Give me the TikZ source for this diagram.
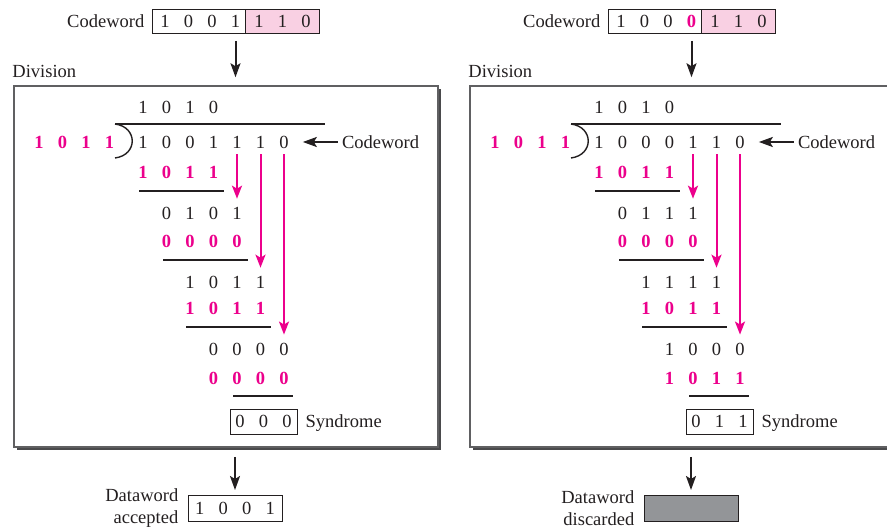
\documentclass[tikz,border=0pt]{standalone}
\usepackage{fontspec}
\setmainfont{Liberation Serif}
\usetikzlibrary{positioning,arrows.meta,shadows}

\definecolor{cpink}{HTML}{EC008C}
\definecolor{cwfill}{HTML}{F9D0E3}
\definecolor{ink}{HTML}{231F20}
\definecolor{framegray}{HTML}{606062}
\definecolor{shadowgray}{HTML}{4A4A4C}
\definecolor{dropgray}{HTML}{939598}

\newcommand{\bgap}{\hspace{14.25pt}}
% one row of bits, 23.5 apart, named #1-1, #1-2, ...
\newcommand{\digitrow}[5]{%
  \foreach \bitval [count=\n] in {#5}
    \node[#4] (#1-\n) at ({#2+23.5*(\n-1)},#3) {\bitval};%
}

\begin{document}
\fontsize{18.5}{22}\selectfont
\begin{tikzpicture}[x=1pt, y=-1pt, color=ink,
  bit/.style={inner sep=0pt},
  pinkbit/.style={inner sep=0pt, text=cpink, font=\bfseries},
  word/.style={draw=ink, line width=1pt, inner sep=0pt, minimum height=24pt},
  frame/.style={draw=framegray, line width=1.5pt, fill=white, minimum width=424pt, minimum height=361pt,
    drop shadow={shadow xshift=3pt, shadow yshift=-3pt, fill=shadowgray, opacity=1}},
  arr/.style={line width=2pt, -{Stealth[length=14pt, width=10pt, inset=3pt]}},
  pinkarr/.style={draw=cpink, line width=2pt, -{Stealth[length=13pt, width=10pt, inset=3pt]}},
  rule/.style={line width=1.2pt}]
\useasboundingbox (0,0) rectangle (887,532);

% left: codeword received intact
\fill[cwfill] (245,10) rectangle (319,33);
\node[word, minimum width=167pt] (Lcw) at (235.5,21.5) {1\bgap 0\bgap 0\bgap 1\bgap 1\bgap 1\bgap 0};
\draw[line width=1pt] (245,10) -- (245,33);
\node[left=7pt of Lcw, inner sep=0pt] (Lcwname) {Codeword};
\node[frame] (Lbox) at (226,266.5) {};
\node[above right=7pt and -1pt of Lbox.north west, inner sep=0pt] (Ldiv) {Division};
\draw[arr, shorten <=7pt, shorten >=8pt] (Lcw.south) -- (Lcw.south |- Lbox.north);

\digitrow{Lq}{143}{107}{bit}{1,0,1,0}
\digitrow{Ldv}{39}{142}{pinkbit}{1,0,1,1}
\digitrow{Lc}{143}{142}{bit}{1,0,0,1,1,1,0}
\draw[line width=1.2pt] (115,124) -- (325,124);
\draw[line width=1.4pt] (115,124) .. controls (138,127) and (138,155) .. (115,158);
\node[right=53pt of Lc-7, inner sep=0pt] (Lcwtag) {Codeword};
\draw[arr, shorten <=4pt, shorten >=14pt] (Lcwtag.west) -- (Lc-7.east);

\digitrow{Ld1}{143}{172}{pinkbit}{1,0,1,1}
\draw[rule] (139,191) -- (224,191);
\digitrow{Lr1}{166.5}{213}{bit}{0,1,0,1}
\digitrow{Ld2}{166.5}{241}{pinkbit}{0,0,0,0}
\draw[rule] (163,260) -- (248,260);
\digitrow{Lr2}{190}{282}{bit}{1,0,1,1}
\digitrow{Ld3}{190}{308}{pinkbit}{1,0,1,1}
\draw[rule] (186,327) -- (271,327);
\digitrow{Lr3}{213.5}{349}{bit}{0,0,0,0}
\digitrow{Ld4}{213.5}{378}{pinkbit}{0,0,0,0}
\draw[rule] (233,396) -- (293,396);

\draw[pinkarr, shorten <=6pt, shorten >=8pt] (Lc-5.south) -- (Lr1-4.north);
\draw[pinkarr, shorten <=6pt, shorten >=8pt] (Lc-6.south) -- (Lr2-4.north);
\draw[pinkarr, shorten <=6pt, shorten >=8pt] (Lc-7.south) -- (Lr3-4.north);

\node[word, minimum width=67pt, minimum height=25pt] (Lsyn) at (263.5,421.5) {0\bgap 0\bgap 0};
\node[right=8pt of Lsyn.base east, anchor=base west, inner sep=0pt] (Lsynname) {Syndrome};

\node[word, minimum width=94pt, minimum height=26pt] (Ldw) at (235,508.5) {1\bgap 0\bgap 0\bgap 1};
\node[left=9pt of Ldw, inner sep=0pt, align=right] (Ldwname) {Dataword\\accepted};
\draw[arr, shorten <=9pt, shorten >=5pt] (Ldw.north |- Lbox.south) -- (Ldw.north);

% right: one bit corrupted
\begin{scope}[shift={(456,0)}]
\fill[cwfill] (245,10) rectangle (319,33);
\node[word, minimum width=167pt] (Rcw) at (235.5,21.5) {1\bgap 0\bgap 0\bgap \textcolor{cpink}{\bfseries 0}\bgap 1\bgap 1\bgap 0};
\draw[line width=1pt] (245,10) -- (245,33);
\node[left=7pt of Rcw, inner sep=0pt] (Rcwname) {Codeword};
\node[frame] (Rbox) at (226,266.5) {};
\node[above right=7pt and -1pt of Rbox.north west, inner sep=0pt] (Rdiv) {Division};
\draw[arr, shorten <=7pt, shorten >=8pt] (Rcw.south) -- (Rcw.south |- Rbox.north);

\digitrow{Rq}{143}{107}{bit}{1,0,1,0}
\digitrow{Rdv}{39}{142}{pinkbit}{1,0,1,1}
\digitrow{Rc}{143}{142}{bit}{1,0,0,0,1,1,0}
\draw[line width=1.2pt] (115,124) -- (325,124);
\draw[line width=1.4pt] (115,124) .. controls (138,127) and (138,155) .. (115,158);
\node[right=53pt of Rc-7, inner sep=0pt] (Rcwtag) {Codeword};
\draw[arr, shorten <=4pt, shorten >=14pt] (Rcwtag.west) -- (Rc-7.east);

\digitrow{Rd1}{143}{172}{pinkbit}{1,0,1,1}
\draw[rule] (139,191) -- (224,191);
\digitrow{Rr1}{166.5}{213}{bit}{0,1,1,1}
\digitrow{Rd2}{166.5}{241}{pinkbit}{0,0,0,0}
\draw[rule] (163,260) -- (248,260);
\digitrow{Rr2}{190}{282}{bit}{1,1,1,1}
\digitrow{Rd3}{190}{308}{pinkbit}{1,0,1,1}
\draw[rule] (186,327) -- (271,327);
\digitrow{Rr3}{213.5}{349}{bit}{1,0,0,0}
\digitrow{Rd4}{213.5}{378}{pinkbit}{1,0,1,1}
\draw[rule] (233,396) -- (293,396);

\draw[pinkarr, shorten <=6pt, shorten >=8pt] (Rc-5.south) -- (Rr1-4.north);
\draw[pinkarr, shorten <=6pt, shorten >=8pt] (Rc-6.south) -- (Rr2-4.north);
\draw[pinkarr, shorten <=6pt, shorten >=8pt] (Rc-7.south) -- (Rr3-4.north);

\node[word, minimum width=67pt, minimum height=25pt] (Rsyn) at (263.5,421.5) {0\bgap 1\bgap 1};
\node[right=8pt of Rsyn.base east, anchor=base west, inner sep=0pt] (Rsynname) {Syndrome};

\node[word, fill=dropgray, minimum width=94pt, minimum height=26pt] (Rdw) at (235,508.5) {};
\node[left=9pt of Rdw, inner sep=0pt, align=right] (Rdwname) {Dataword\\discarded};
\draw[arr, shorten <=9pt, shorten >=5pt] (Rdw.north |- Rbox.south) -- (Rdw.north);
\end{scope}
\end{tikzpicture}
\end{document}
